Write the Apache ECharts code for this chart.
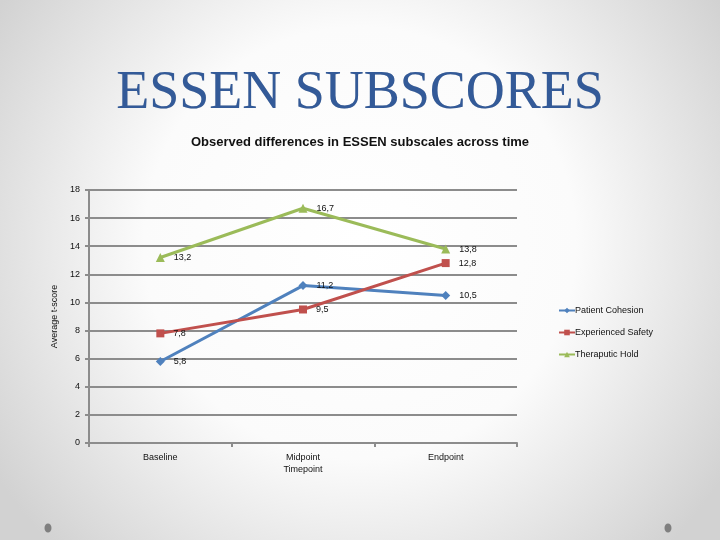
<!DOCTYPE html>
<html><head><meta charset="utf-8">
<script src="https://cdn.jsdelivr.net/npm/echarts@6/dist/echarts.min.js"></script>
<style>html,body{margin:0;padding:0;}#c{width:720px;height:540px;}</style>
</head><body><div id="c"></div>
<script>
const categories = ['Baseline', 'Midpoint\nTimepoint', 'Endpoint'];
const patientCohesion = [5.8, 11.2, 10.5];
const experiencedSafety = [7.8, 9.5, 12.8];
const theraputicHold = [13.2, 16.7, 13.8];
const seriesNames = ['Patient Cohesion', 'Experienced Safety', 'Theraputic Hold'];
const yTicks = { min: 0, max: 18, interval: 2 };

const chart = echarts.init(document.getElementById('c'));
const fmt = p => String(p.value).replace('.', ',');
function mk(name, data, color, symbol, size) {
  return {
    name, type: 'line', data, symbol, symbolSize: size,
    lineStyle: { color, width: 3 }, itemStyle: { color },
    label: { show: true, position: 'right', distance: 9, formatter: fmt, fontSize: 9, color: '#111', fontFamily: 'Liberation Sans' },
    z: 3
  };
}
chart.setOption({
  backgroundColor: {
    type: 'radial', x: 0.5, y: 0.45, r: 0.8,
    colorStops: [{ offset: 0, color: '#ffffff' }, { offset: 0.5, color: '#fbfbfb' }, { offset: 1, color: '#d2d2d2' }]
  },
  animation: false,
  graphic: [
    { type: 'text', left: 'center', top: 67, z: 1, x: 2, y: 2, style: { text: 'ESSEN SUBSCORES', font: '54px "Liberation Serif"', fill: '#d6d6d6' } },
    { type: 'text', left: 'center', top: 67, z: 2, style: { text: 'ESSEN SUBSCORES', font: '54px "Liberation Serif"', fill: '#335a98' } },
    { type: 'text', left: 'center', top: 136, style: { text: 'Observed differences in ESSEN subscales across time', font: 'bold 13px "Liberation Sans"', fill: '#111' } },
    { type: 'ellipse', shape: { cx: 48, cy: 528, rx: 3.5, ry: 4.5 }, style: { fill: '#7f7f7f' } },
    { type: 'ellipse', shape: { cx: 668, cy: 528, rx: 3.5, ry: 4.5 }, style: { fill: '#7f7f7f' } }
  ],
  legend: {
    orient: 'vertical', left: 553, top: 301, itemGap: 13, itemWidth: 16, itemHeight: 7,
    data: seriesNames,
    textStyle: { fontSize: 9, color: '#111', fontFamily: 'Liberation Sans', padding: [0, 0, 0, -5] }
  },
  grid: { left: 89, right: 203, top: 190, bottom: 97 },
  xAxis: {
    type: 'category', data: categories, boundaryGap: true,
    axisLine: { lineStyle: { color: '#8c8c8c', width: 2 } },
    axisTick: { show: true, length: 4, lineStyle: { color: '#8c8c8c', width: 2 } },
    axisLabel: { fontSize: 9, color: '#111', margin: 9, lineHeight: 12, fontFamily: 'Liberation Sans' }
  },
  yAxis: {
    type: 'value', min: yTicks.min, max: yTicks.max, interval: yTicks.interval,
    name: 'Average t-score', nameLocation: 'middle', nameGap: 24, nameRotate: 90,
    nameTextStyle: { fontSize: 9, color: '#111', fontFamily: 'Liberation Sans' },
    axisLine: { show: true, lineStyle: { color: '#8c8c8c', width: 2 } },
    axisTick: { show: true, length: 4, lineStyle: { color: '#8c8c8c', width: 2 } },
    axisLabel: { fontSize: 9, color: '#111', margin: 9, fontFamily: 'Liberation Sans' },
    splitLine: { lineStyle: { color: '#8c8c8c', width: 2 } }
  },
  series: [
    mk(seriesNames[0], patientCohesion, '#4f81bd', 'diamond', 9),
    mk(seriesNames[1], experiencedSafety, '#c0504d', 'rect', 8),
    mk(seriesNames[2], theraputicHold, '#9bbb59', 'triangle', 9)
  ]
});
</script></body></html>
